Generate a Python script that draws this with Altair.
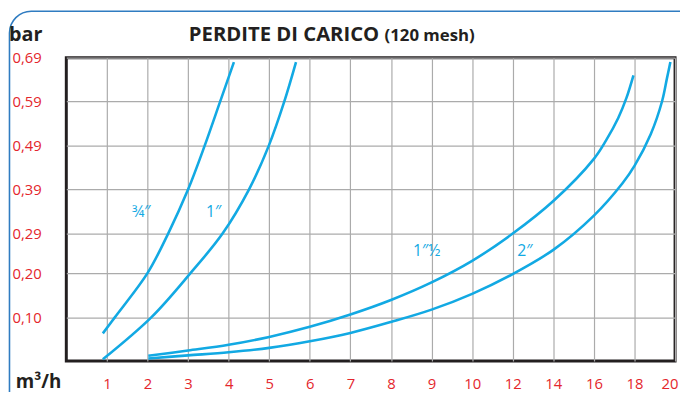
import altair as alt
import pandas as pd

# ---- data ----
x_labels = ["1", "2", "3", "4", "5", "6", "7", "8", "9", "10", "12", "14", "16", "18", "20"]
y_ticks = [0.10, 0.20, 0.29, 0.39, 0.49, 0.59, 0.69]

series_names = ["¾″", "1″", "1″½", "2″"]

flow_34 = [0.9, 1.2, 2.0, 2.51, 3.0, 3.41, 3.79, 4.13]
bar_34 = [0.063, 0.10, 0.20, 0.29, 0.39, 0.49, 0.59, 0.68]

flow_1 = [0.9, 2.1, 3.06, 3.85, 4.5, 4.99, 5.37, 5.66]
bar_1 = [0.004, 0.10, 0.20, 0.29, 0.39, 0.49, 0.59, 0.68]

flow_15 = [2.02, 3, 4, 5, 6, 7, 8, 9, 10, 12, 14, 16, 16.6, 17.2, 17.6, 17.95]
bar_15 = [0.012, 0.024, 0.037, 0.055, 0.078, 0.106, 0.139, 0.179, 0.228, 0.290, 0.364, 0.460, 0.502, 0.553, 0.598, 0.65]

flow_2 = [2.02, 3, 4, 5, 6, 7, 8, 9, 10, 12, 14, 16, 17.4, 18, 18.8, 19.36, 19.6, 19.77]
bar_2 = [0.006, 0.013, 0.020, 0.030, 0.045, 0.064, 0.089, 0.117, 0.153, 0.198, 0.253, 0.331, 0.404, 0.444, 0.516, 0.591, 0.643, 0.68]

label_flow = [1.85, 3.63, 8.88, 12.6]
label_bar = [0.34, 0.34, 0.25, 0.25]

# ---- tables ----
rows = []
for name, fl, br in zip(series_names, [flow_34, flow_1, flow_15, flow_2], [bar_34, bar_1, bar_15, bar_2]):
    for f, b in zip(fl, br):
        rows.append({"serie": name, "flow": f, "bar": b})
curves = pd.DataFrame(rows)
labels = pd.DataFrame({"serie": series_names, "flow": label_flow, "bar": label_bar})

BLUE = "#12A9E3"
RED = "#E4262C"
DARK = "#231F20"
W, H = 616, 307

# flow (m3/h) -> evenly spaced axis position (1..10 step 1, then 12..20 step 2)
pos_expr = "datum.flow <= 10 ? datum.flow - 1 : 9 + (datum.flow - 10) / 2"
label_array = "[" + ",".join('"%s"' % s for s in x_labels) + "]"

x_enc = alt.X(
    "pos:Q",
    scale=alt.Scale(domain=[-1, len(x_labels) - 1], nice=False, zero=False),
    axis=alt.Axis(
        values=list(range(len(x_labels))),
        labelExpr=label_array + "[datum.value]",
        title=None,
        labelFlush=True,
        labelFlushOffset=3,
        labelPadding=16,
    ),
)
y_enc = alt.Y(
    "bar:Q",
    scale=alt.Scale(domain=[0, 0.69], nice=False, zero=True),
    axis=alt.Axis(
        values=y_ticks,
        labelExpr="replace(format(datum.value, '.2f'), '.', ',')",
        title=None,
        labelAlign="left",
        labelPadding=55,
    ),
)

lines = (
    alt.Chart(curves)
    .transform_calculate(pos=pos_expr)
    .mark_line(color=BLUE, strokeWidth=2.6, interpolate="catmull-rom")
    .encode(x=x_enc, y=y_enc, detail="serie:N")
)

curve_text = (
    alt.Chart(labels)
    .transform_calculate(pos=pos_expr)
    .mark_text(color=BLUE, font="Open Sans", fontSize=16, align="center", baseline="middle")
    .encode(x=alt.X("pos:Q"), y=alt.Y("bar:Q"), text="serie:N")
)

one = alt.Data(values=[{}])

frame = alt.Chart(one).mark_rect(
    filled=False, stroke="#2F7CC1", strokeWidth=1.6, cornerRadius=22
).encode(
    x=alt.value(-57.5), x2=alt.value(W + 30), y=alt.value(-47), y2=alt.value(H + 60)
)

title_main = alt.Chart(one).mark_text(
    text="PERDITE DI CARICO", font="Open Sans", fontWeight="bold", fontSize=20.5,
    color=DARK, align="left", baseline="alphabetic"
).encode(x=alt.value(124), y=alt.value(-17))

title_sub = alt.Chart(one).mark_text(
    text="(120 mesh)", font="Open Sans", fontWeight="bold", fontSize=17,
    color=DARK, align="left", baseline="alphabetic"
).encode(x=alt.value(322), y=alt.value(-17))

y_title = alt.Chart(one).mark_text(
    text="bar", font="Open Sans", fontWeight="bold", fontSize=20,
    color=DARK, align="left", baseline="alphabetic"
).encode(x=alt.value(-58), y=alt.value(-17))

x_title = alt.Chart(one).mark_text(
    text="m³/h", font="Open Sans", fontWeight="bold", fontSize=19,
    color=DARK, align="right", baseline="alphabetic"
).encode(x=alt.value(-5), y=alt.value(H + 27))

chart = (
    alt.layer(frame, lines, curve_text, title_main, title_sub, y_title, x_title)
    .properties(
        width=W,
        height=H,
        autosize=alt.AutoSizeParams(type="none"),
        padding={"left": 59, "top": 48, "right": 5, "bottom": 29},
        background="white",
    )
    .configure_view(stroke=DARK, strokeWidth=3)
    .configure_axis(
        grid=True,
        gridColor="#ABABAB",
        gridWidth=1.2,
        domain=False,
        ticks=False,
        labelColor=RED,
        labelFont="Open Sans",
        labelFontSize=15,
    )
)

chart.save("out.html", embed_options={"renderer": "svg", "actions": False})
